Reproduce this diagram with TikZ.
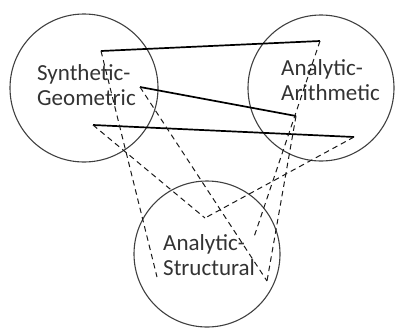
\documentclass[tikz,border=0pt]{standalone}
\usepackage{fontspec}
\setmainfont{Carlito}
\begin{document}
\begin{tikzpicture}[x=1pt,y=-1pt,
  area/.style={draw=black!75,line width=1.1pt,circle,minimum size=148pt,inner sep=0pt},
  lbl/.style={text=black!80,align=left,anchor=base west,inner sep=0pt,
    font=\fontsize{23}{25}\selectfont},
  link/.style={line width=1.7pt,black},
  trace/.style={line width=1pt,black!90,dash pattern=on 5.5pt off 4pt}]
\useasboundingbox (0,0) rectangle (395,327);

% the three circles
\node[area] (sg) at (84,88) {};
\node[area,minimum size=146pt] (aa) at (321,88) {};
\node[area,minimum size=146pt] (as) at (207,254) {};

% labels (anchored at the baseline of the second line)
\node[lbl] (tsg) at (37,105) {Synthetic-\\Geometric};
\node[lbl] (taa) at (281,100) {Analytic-\\Arithmetic};
\node[lbl] (tas) at (163,275) {Analytic-\\Structural};

% end points
\coordinate (a1) at (101,51);
\coordinate (a2) at (140,87);
\coordinate (a3) at (93,125);
\coordinate (b1) at (320,41);
\coordinate (b2) at (296,116);
\coordinate (b3) at (354,137);
\coordinate (c1) at (157,277);
\coordinate (c2) at (267,281);
\coordinate (c3) at (205,218);
\coordinate (c4) at (254,237);

% solid links
\draw[link] (a1) -- (b1);
\draw[link] (a2) -- (b2);
\draw[link] (a3) -- (b3);

% dashed traces
\draw[trace] (a1) -- (c1);
\draw[trace] (a2) -- (c2);
\draw[trace] (b2) -- (c2);
\draw[trace] (a3) -- (c3);
\draw[trace] (b3) -- (c3);
\draw[trace] (b1) -- (c4);
\end{tikzpicture}
\end{document}
